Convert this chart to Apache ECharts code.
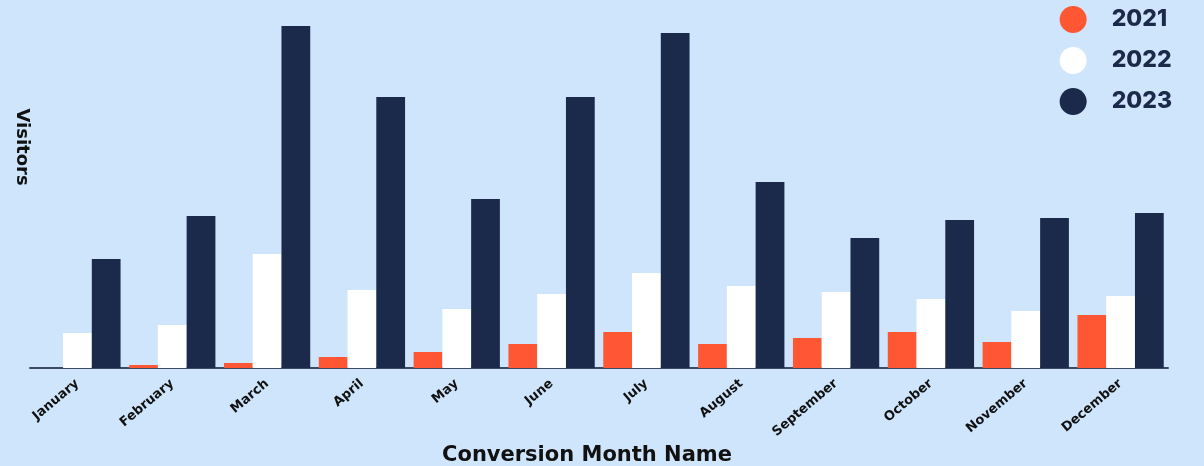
<!DOCTYPE html>
<html>
<head>
<meta charset="utf-8">
<script src="https://cdn.jsdelivr.net/npm/echarts@6/dist/echarts.min.js"></script>
<style>
  html, body { margin: 0; padding: 0; background: #cfe5fc; }
  #chart { width: 1204px; height: 466px; }
</style>
</head>
<body>
<div id="chart"></div>
<script>
// Monthly visitors by conversion month, three years side by side
const months = ['January', 'February', 'March', 'April', 'May', 'June',
  'July', 'August', 'September', 'October', 'November', 'December'];
const years = ['2021', '2022', '2023'];
const visitors2021 = [0, 3, 5, 11, 16, 24, 36, 24, 30, 36, 26, 53];
const visitors2022 = [35, 43, 114, 78, 59, 74, 95, 82, 76, 69, 57, 72];
const visitors2023 = [109, 152, 342, 271, 169, 271, 335, 186, 130, 148, 150, 155];
const yearColors = ['#ff5733', '#ffffff', '#1b2a4a'];

const chart = echarts.init(document.getElementById('chart'));
const seriesData = [visitors2021, visitors2022, visitors2023];

chart.setOption({
  backgroundColor: '#cfe5fc',
  animation: false,
  grid: { left: 30, right: 36, top: 26, bottom: 98 },
  legend: {
    orient: 'vertical',
    right: 27,
    top: 1,
    icon: 'circle',
    itemWidth: 27,
    itemHeight: 27,
    itemGap: 14,
    textStyle: { fontFamily: 'Inter', fontWeight: 800, fontSize: 23, color: '#1b2a4a', padding: [0, 0, 0, 20] },
    data: years
  },
  xAxis: {
    type: 'category',
    data: months,
    axisLine: { lineStyle: { color: '#3b4a66', width: 2 } },
    axisTick: { show: false },
    axisLabel: {
      rotate: 40,
      margin: 14,
      fontFamily: 'DejaVu Sans',
      fontWeight: 'bold',
      fontSize: 13,
      color: '#111111'
    }
  },
  yAxis: {
    type: 'value',
    min: 0,
    max: 'dataMax',
    show: false,
    splitLine: { show: false }
  },
  graphic: [
    {
      type: 'text',
      x: 22,
      y: 147,
      rotation: -Math.PI / 2,
      style: {
        text: 'Visitors',
        fontFamily: 'DejaVu Sans',
        fontWeight: 'bold',
        fontSize: 18,
        fill: '#111111',
        textAlign: 'center',
        textVerticalAlign: 'middle'
      }
    },
    {
      type: 'text',
      x: 587,
      y: 456,
      style: {
        text: 'Conversion Month Name',
        fontFamily: 'DejaVu Sans',
        fontWeight: 'bold',
        fontSize: 21,
        fill: '#111111',
        textAlign: 'center',
        textVerticalAlign: 'middle'
      }
    }
  ],
  series: years.map((y, i) => ({
    name: y,
    type: 'bar',
    data: seriesData[i],
    barGap: '0%',
    barCategoryGap: '9%',
    itemStyle: { color: yearColors[i] }
  }))
});
</script>
</body>
</html>
